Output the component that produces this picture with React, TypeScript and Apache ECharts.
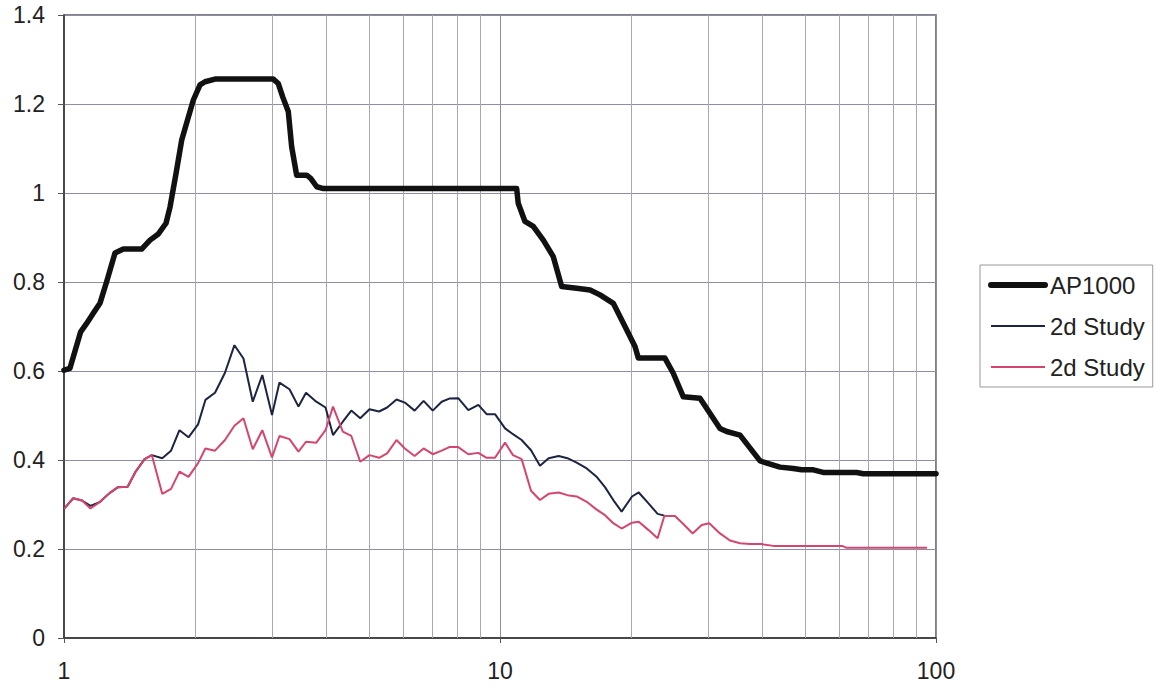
import React, { useEffect, useRef } from "react";
import * as echarts from "echarts";

// ---- data (frequency on log x axis, value on y axis) ----
const apFreq = [1.0, 1.032, 1.092, 1.127, 1.167, 1.21, 1.253, 1.309, 1.368, 1.507, 1.575, 1.646, 1.714, 1.751, 1.807, 1.862, 1.895, 1.98, 2.051, 2.106, 2.22, 3.02, 3.101, 3.174, 3.269, 3.328, 3.417, 3.603, 3.68, 3.799, 3.934, 10.92, 11.01, 11.41, 11.92, 12.57, 13.25, 13.85, 14.99, 16.09, 16.96, 18.19, 19.35, 20.4, 20.76, 23.89, 24.97, 26.33, 28.75, 31.96, 33.11, 35.52, 39.48, 43.87, 47.07, 49.2, 52.31, 55.13, 65.79, 68.13, 100];
const apValues = [0.602, 0.606, 0.688, 0.707, 0.73, 0.753, 0.801, 0.865, 0.874, 0.874, 0.894, 0.908, 0.932, 0.969, 1.044, 1.119, 1.145, 1.209, 1.243, 1.25, 1.256, 1.256, 1.246, 1.216, 1.183, 1.104, 1.04, 1.04, 1.033, 1.014, 1.01, 1.01, 0.977, 0.936, 0.925, 0.894, 0.857, 0.79, 0.786, 0.782, 0.771, 0.752, 0.7, 0.655, 0.629, 0.629, 0.595, 0.542, 0.539, 0.471, 0.464, 0.456, 0.398, 0.384, 0.381, 0.378, 0.378, 0.372, 0.372, 0.369, 0.369];

const studyFreq = [1.0, 1.05, 1.1, 1.15, 1.21, 1.27, 1.33, 1.4, 1.46, 1.53, 1.59, 1.68, 1.76, 1.84, 1.93, 2.03, 2.11, 2.22, 2.34, 2.46, 2.58, 2.71, 2.85, 3.0, 3.12, 3.29, 3.45, 3.59, 3.79, 3.98, 4.14, 4.36, 4.56, 4.78, 5.02, 5.28, 5.51, 5.79, 6.05, 6.37, 6.68, 7.01, 7.35, 7.65, 8.02, 8.46, 8.92, 9.32, 9.74, 10.27, 10.71, 11.21, 11.78, 12.35, 12.93, 13.63, 14.28, 14.99, 15.81, 16.63, 17.41, 18.19, 19.01, 20.08, 20.81, 21.88, 22.99, 23.82];
const study1Values = [0.29, 0.314, 0.309, 0.297, 0.306, 0.325, 0.339, 0.34, 0.374, 0.402, 0.411, 0.404, 0.421, 0.467, 0.451, 0.48, 0.535, 0.551, 0.596, 0.658, 0.628, 0.531, 0.591, 0.501, 0.574, 0.559, 0.52, 0.551, 0.531, 0.518, 0.456, 0.486, 0.511, 0.494, 0.514, 0.509, 0.518, 0.536, 0.529, 0.511, 0.533, 0.511, 0.531, 0.538, 0.539, 0.512, 0.524, 0.503, 0.503, 0.471, 0.458, 0.445, 0.422, 0.387, 0.404, 0.409, 0.404, 0.394, 0.381, 0.363, 0.339, 0.31, 0.284, 0.318, 0.327, 0.303, 0.279, 0.275];

const study2ExtraFreq = [25.2, 26.33, 27.67, 29.01, 30.2, 31.96, 33.69, 35.52, 37.45, 39.83, 42.36, 60.9, 62.2, 95.4];
const study2Values = [0.29, 0.314, 0.309, 0.291, 0.306, 0.325, 0.339, 0.34, 0.374, 0.402, 0.411, 0.324, 0.335, 0.374, 0.362, 0.393, 0.426, 0.421, 0.445, 0.477, 0.494, 0.424, 0.467, 0.406, 0.454, 0.447, 0.419, 0.441, 0.439, 0.467, 0.52, 0.464, 0.454, 0.396, 0.411, 0.405, 0.415, 0.445, 0.426, 0.409, 0.426, 0.413, 0.421, 0.429, 0.429, 0.413, 0.416, 0.405, 0.405, 0.439, 0.411, 0.402, 0.331, 0.31, 0.324, 0.327, 0.321, 0.318, 0.306, 0.289, 0.276, 0.258, 0.246, 0.259, 0.261, 0.243, 0.224, 0.274, 0.274, 0.256, 0.235, 0.254, 0.258, 0.235, 0.219, 0.213, 0.211, 0.211, 0.207, 0.207, 0.203, 0.203];

const minorGridX = [2, 3, 4, 5, 6, 7, 8, 9, 20, 30, 40, 50, 60, 70, 80, 90];

const seriesNames = ["AP1000", "2d Study (1)", "2d Study (2)"];

const FONT = "'Liberation Sans', Arial, sans-serif";

export default function App() {
  const ref = useRef<HTMLDivElement>(null);
  useEffect(() => {
    if (!ref.current) return;
    const chart = echarts.init(ref.current, null, { renderer: "svg" });
    const study2Freq = studyFreq.concat(study2ExtraFreq);
    const zip = (xs: number[], ys: number[]) => ys.map((y, i) => [xs[i], y]);
    chart.setOption({
      animation: false,
      backgroundColor: "#ffffff",
      grid: {
        left: 64,
        right: 220,
        top: 15,
        bottom: 51,
        show: true,
        borderColor: "#555560",
        borderWidth: 1.5,
        backgroundColor: "transparent",
      },
      legend: {
        orient: "vertical",
        left: 980,
        top: 265,
        padding: [8, 8, 8, 8],
        itemWidth: 54,
        itemHeight: 20,
        itemGap: 17,
        borderColor: "#9a9a9a",
        borderWidth: 1,
        backgroundColor: "#ffffff",
        itemStyle: { opacity: 0 },
        textStyle: { fontFamily: FONT, fontSize: 24, color: "#222" },
        formatter: (name: string) => (name.indexOf("2d Study") === 0 ? "2d Study" : name),
        data: [
          { name: seriesNames[0], lineStyle: { width: 6 } },
          { name: seriesNames[1], lineStyle: { width: 2 } },
          { name: seriesNames[2], lineStyle: { width: 2 } },
        ],
      },
      xAxis: {
        type: "log",
        logBase: 10,
        min: 1,
        max: 100,
        axisLine: { show: true, onZero: false, lineStyle: { color: "#333", width: 1.5 } },
        axisTick: { show: true, length: 5, lineStyle: { color: "#555" } },
        axisLabel: { fontFamily: FONT, fontSize: 23, color: "#222", margin: 21 },
        splitLine: { show: true, lineStyle: { color: "#8e8ea2", width: 1 } },
      },
      yAxis: {
        type: "value",
        min: 0,
        max: 1.4,
        interval: 0.2,
        axisLine: { show: true, lineStyle: { color: "#333", width: 1.5 } },
        axisTick: { show: true, length: 6, lineStyle: { color: "#555" } },
        axisLabel: { fontFamily: FONT, fontSize: 23, color: "#222", margin: 19 },
        splitLine: { show: true, lineStyle: { color: "#8e8ea2", width: 1 } },
      },
      series: [
        {
          type: "line",
          name: "_grid",
          data: [],
          silent: true,
          markLine: {
            silent: true,
            z: 1,
            symbol: ["none", "none"],
            label: { show: false },
            emphasis: { disabled: true },
            lineStyle: { color: "#a6a6b8", width: 1, type: "solid" },
            data: minorGridX.map((v) => ({ xAxis: v })),
          },
        },
        {
          type: "line",
          name: seriesNames[0],
          data: zip(apFreq, apValues),
          symbol: "none",
          color: "#111111",
          lineStyle: { color: "#111111", width: 5.5, join: "round", cap: "round" },
          z: 4,
        },
        {
          type: "line",
          name: seriesNames[1],
          data: zip(studyFreq, study1Values),
          symbol: "none",
          color: "#1c2440",
          lineStyle: { color: "#1c2440", width: 2 },
          z: 3,
        },
        {
          type: "line",
          name: seriesNames[2],
          data: zip(study2Freq, study2Values),
          symbol: "none",
          color: "#d4456f",
          lineStyle: { color: "#d4456f", width: 2 },
          z: 3,
        },
      ],
    });
    return () => chart.dispose();
  }, []);
  return (
    <div
      ref={ref}
      style={{ position: "fixed", left: 0, top: 0, width: 1156, height: 689, background: "#fff" }}
    />
  );
}
